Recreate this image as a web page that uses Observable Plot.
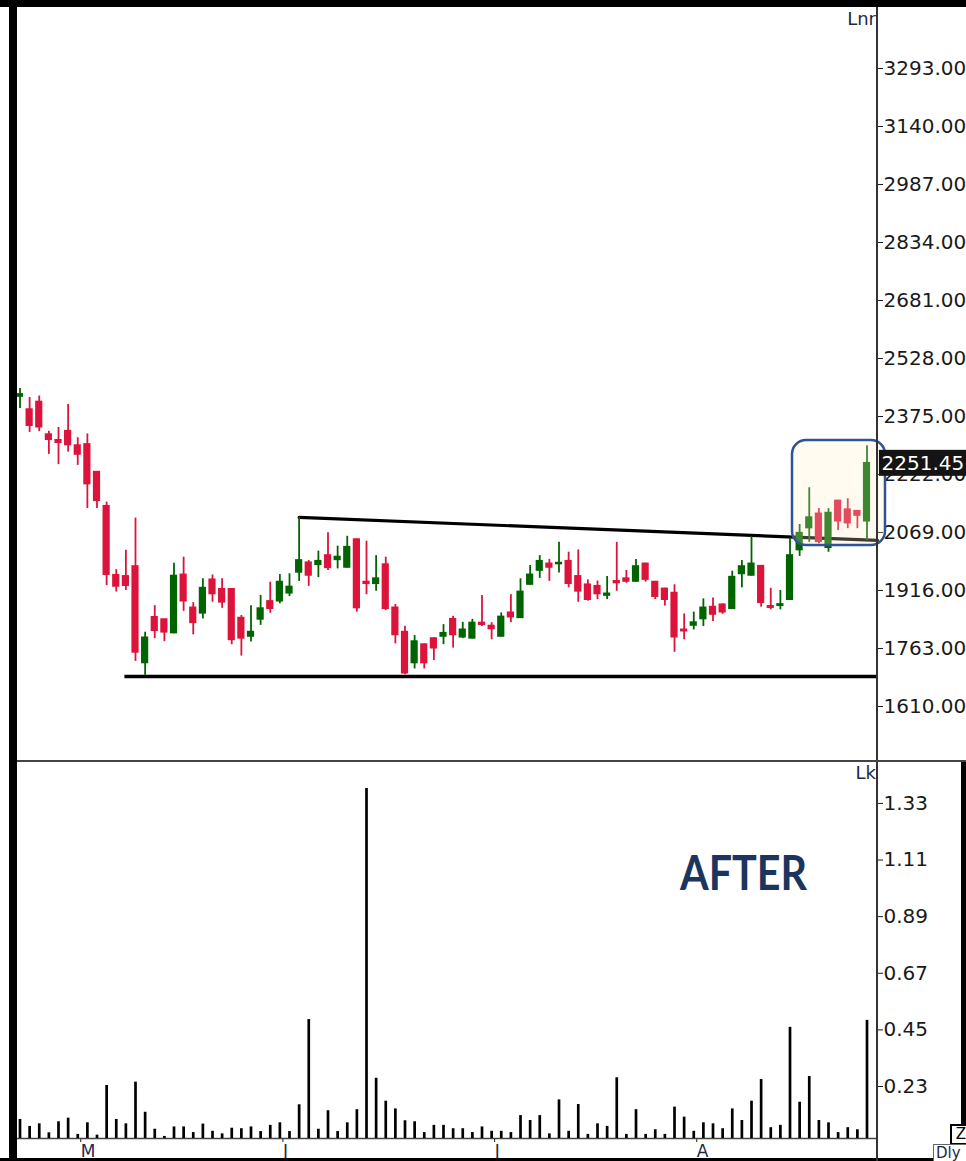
<!DOCTYPE html>
<html><head><meta charset="utf-8">
<script src="https://cdn.jsdelivr.net/npm/d3@7"></script>
<script src="https://cdn.jsdelivr.net/npm/@observablehq/plot@0.6"></script>
<style>
html,body{margin:0;padding:0;background:#fff;}
#wrap{position:relative;width:966px;height:1161px;overflow:hidden;background:#fff;font-family:"DejaVu Sans",sans-serif;}
#price{position:absolute;left:0;top:0;}
#vol{position:absolute;left:0;top:762px;}
.ln{position:absolute;}
.lab{position:absolute;font-family:"DejaVu Sans",sans-serif;color:#1e2a44;}
#after{position:absolute;left:680px;top:843px;font-family:Lato,"Open Sans",sans-serif;font-weight:700;font-size:48px;color:#1c355e;transform:scaleX(0.86);transform-origin:left top;white-space:nowrap;}
</style>
</head><body>
<div id="wrap">
  <div id="price"></div>
  <div id="vol"></div>
</div>
<script>
// ---- data ----
const openP  = [2428,2393,2413,2327,2312,2336,2298,2301,2228,2138,1956,1953,1979,1725,1845,1839,1804,1957,1870,1856,1944,1919,1919,1843,1795,1840,1887,1888,1909,1964,1989,1984,2008,1997,1977,2050,1938,1934,1984,1870,1806,1725,1773,1789,1795,1840,1793,1790,1830,1822,1795,1857,1844,1932,1969,1986,1986,1993,1953,1931,1927,1903,1940,1947,1940,1986,1938,1920,1909,1812,1824,1841,1872,1878,1868,1960,1956,1980,1874,1876,1892,2023,2081,2118,2029,2152,2129,2125,2099];
const highP  = [2449,2425,2429,2336,2346,2407,2319,2329,2230,2149,1971,2022,2107,1806,1876,1840,1988,2004,1884,1947,1957,1947,1921,1850,1876,1903,1938,1958,1960,2109,1995,2020,2068,2033,2059,2052,2046,2008,2004,1879,1822,1797,1775,1791,1826,1848,1832,1840,1903,1831,1857,1905,1947,1982,2008,1998,2043,2017,2023,1944,1941,1953,2043,1969,1998,1988,1940,1922,1931,1854,1859,1894,1896,1881,1967,1995,2058,1982,1922,1916,2054,2090,2187,2132,2132,2154,2158,2127,2298];
const lowP   = [2396,2333,2335,2275,2248,2281,2246,2132,2132,1929,1912,1916,1729,1692,1789,1781,1802,1861,1799,1841,1885,1869,1773,1743,1780,1824,1856,1881,1900,1940,1927,1950,1969,1973,1975,1859,1905,1914,1863,1775,1694,1709,1709,1731,1773,1764,1789,1788,1821,1786,1793,1831,1842,1930,1948,1940,1962,1923,1885,1888,1892,1892,1914,1935,1938,1938,1892,1875,1753,1786,1812,1821,1834,1853,1866,1923,1954,1872,1865,1865,1890,2006,2043,2039,2017,2074,2079,2079,2048];
const closeP = [2433,2351,2347,2314,2306,2300,2275,2197,2153,1958,1927,1929,1753,1791,1810,1806,1954,1888,1831,1922,1907,1885,1786,1790,1806,1868,1868,1938,1925,1995,1956,1993,1976,2004,2030,1870,1934,1947,1868,1799,1698,1781,1725,1764,1803,1799,1812,1830,1826,1815,1846,1846,1912,1957,1993,1977,1988,1934,1914,1892,1907,1907,1936,1940,1979,1945,1900,1892,1793,1809,1831,1870,1853,1859,1951,1979,1986,1884,1871,1879,2008,2067,2108,2045,2120,2099,2094,2114,2251.45];
const volumeLk = [0.102,0.075,0.085,0.050,0.093,0.107,0.044,0.089,0.041,0.234,0.102,0.085,0.247,0.130,0.064,0.036,0.073,0.073,0.051,0.084,0.056,0.046,0.068,0.066,0.073,0.055,0.079,0.089,0.055,0.159,0.490,0.064,0.136,0.055,0.089,0.140,1.388,0.262,0.173,0.143,0.097,0.093,0.051,0.079,0.079,0.066,0.066,0.051,0.073,0.056,0.056,0.051,0.117,0.098,0.117,0.046,0.178,0.056,0.160,0.044,0.085,0.075,0.264,0.044,0.140,0.044,0.062,0.044,0.150,0.111,0.056,0.089,0.085,0.066,0.143,0.098,0.173,0.257,0.070,0.079,0.460,0.169,0.269,0.098,0.089,0.051,0.070,0.062,0.487];
const priceTicks = [1610,1763,1916,2069,2222,2375,2528,2681,2834,2987,3140,3293];
const volTicks = [0.23,0.45,0.67,0.89,1.11,1.33];
const monthTickIndex = [6,27,49,70];
const monthLabels = ["M","J","J","A"];
const supportLevel = 1689;
const supportStartIndex = 10.9;
const resistancePts = [{i:29, p:2109},{i:89.1, p:2048}];
const breakoutBox = [{i1:80.26, i2:89.92, p1:2034.7, p2:2311.7}];
const lastClose = 2251.45;

// ---- styles ----
const UP = "#006400", DOWN = "#dc143c";
const xDomain = [-0.26, 89.09];
const priceDomain = [1464.9, 3453.9];
const volDomain = [0.028, 1.489];

const candles = openP.map((o, i) => ({i, open:o, high:highP[i], low:lowP[i], close:closeP[i], vol:volumeLk[i], up: closeP[i] >= o}));

const baseStyle = {fontFamily:"DejaVu Sans, sans-serif", fontSize:"20px", color:"#1a1a1a", background:"transparent", overflow:"visible"};

const priceChart = Plot.plot({
  width:966, height:762,
  marginLeft:17, marginRight:89, marginTop:7, marginBottom:1,
  x:{domain:xDomain, axis:null},
  y:{domain:priceDomain, axis:null},
  color:{type:"identity"},
  style: baseStyle,
  marks:[
    Plot.axisY({anchor:"right", label:null, ticks:priceTicks, tickFormat:d => d.toFixed(2), tickSize:5, tickPadding:1}),
    Plot.ruleY([supportLevel], {x1:supportStartIndex, x2:xDomain[1], stroke:"#000", strokeWidth:3.5}),
    Plot.line(resistancePts, {x:"i", y:"p", stroke:"#000", strokeWidth:3.2}),
    Plot.ruleX(candles, {x:"i", y1:"low", y2:"high", stroke:d => d.up ? UP : DOWN, strokeWidth:1.8}),
    Plot.rect(candles, {x1:"i", x2:"i", y1:"open", y2:"close", fill:d => d.up ? UP : DOWN,
      insetLeft:-3.6, insetRight:-3.6, insetTop:-0.9, insetBottom:-0.9}),
    Plot.rect(breakoutBox, {x1:"i1", x2:"i2", y1:"p1", y2:"p2", fill:"#fff0c3", fillOpacity:0.25,
      stroke:"#2f5496", strokeWidth:2.5, rx:14}),
    Plot.rect([lastClose], {x1:xDomain[1] + 0.2, x2:100, y1:d => d, y2:d => d, fill:"#141414",
      insetTop:-13, insetBottom:-13}),
    Plot.text([lastClose], {x:xDomain[1], y:d => d, text:d => d.toFixed(2), fill:"#fff",
      textAnchor:"start", dx:4, fontSize:20})
  ]
});
document.getElementById("price").appendChild(priceChart);

const volChart = Plot.plot({
  width:966, height:399,
  marginLeft:17, marginRight:89, marginTop:0, marginBottom:23,
  x:{domain:xDomain, axis:null},
  y:{domain:volDomain, axis:null},
  style: baseStyle,
  marks:[
    Plot.axisY({anchor:"right", label:null, ticks:volTicks, tickFormat:d => d.toFixed(2), tickSize:5, tickPadding:1}),
    Plot.axisX({anchor:"bottom", label:null, ticks:monthTickIndex, tickFormat:d => monthLabels[monthTickIndex.indexOf(d)],
      tickSize:4, tickPadding:2, textAnchor:"start", dx:3, fontSize:17, fill:"#1e2a44"}),
    Plot.ruleY([volDomain[0]], {stroke:"#444", strokeWidth:1.3}),
    Plot.ruleX(candles, {x:"i", y1:volDomain[0], y2:"vol", stroke:"#000", strokeWidth:2.7})
  ]
});
document.getElementById("vol").appendChild(volChart);

// ---- frame chrome & labels ----
const wrap = document.getElementById("wrap");
function box(l, t, w, h, bg){ const d = document.createElement("div"); d.className="ln";
  Object.assign(d.style,{left:l+"px",top:t+"px",width:w+"px",height:h+"px",background:bg}); wrap.appendChild(d); return d; }
box(0,0,966,7,"#000");
box(9,0,8,1161,"#000");
box(0,1158,966,3,"#000");
box(961,761,5,400,"#000");
box(876.3,7,1.4,1154,"#333");
box(17,760.3,949,1.4,"#444");
function label(txt, css){ const d=document.createElement("div"); d.className="lab"; d.textContent=txt; Object.assign(d.style, css); wrap.appendChild(d); return d; }
label("Lnr", {right:(966-876)+"px", top:"8px", fontSize:"18px"});
label("Lk", {right:(966-876)+"px", top:"762px", fontSize:"18px"});
label("Z", {left:"950px", top:"1124px", width:"14px", height:"17px", border:"2px solid #000", background:"#fff", fontSize:"15px", lineHeight:"17px", textAlign:"right", overflow:"hidden", color:"#000"});
label("Dly", {left:"933px", top:"1144px", width:"30px", height:"17px", border:"1px solid #666", background:"#fff", fontSize:"15px", lineHeight:"17px", paddingLeft:"2px", overflow:"hidden", color:"#1e2a44"});
const after = document.createElement("div"); after.id="after"; after.textContent="AFTER"; wrap.appendChild(after);
</script>
</body></html>
